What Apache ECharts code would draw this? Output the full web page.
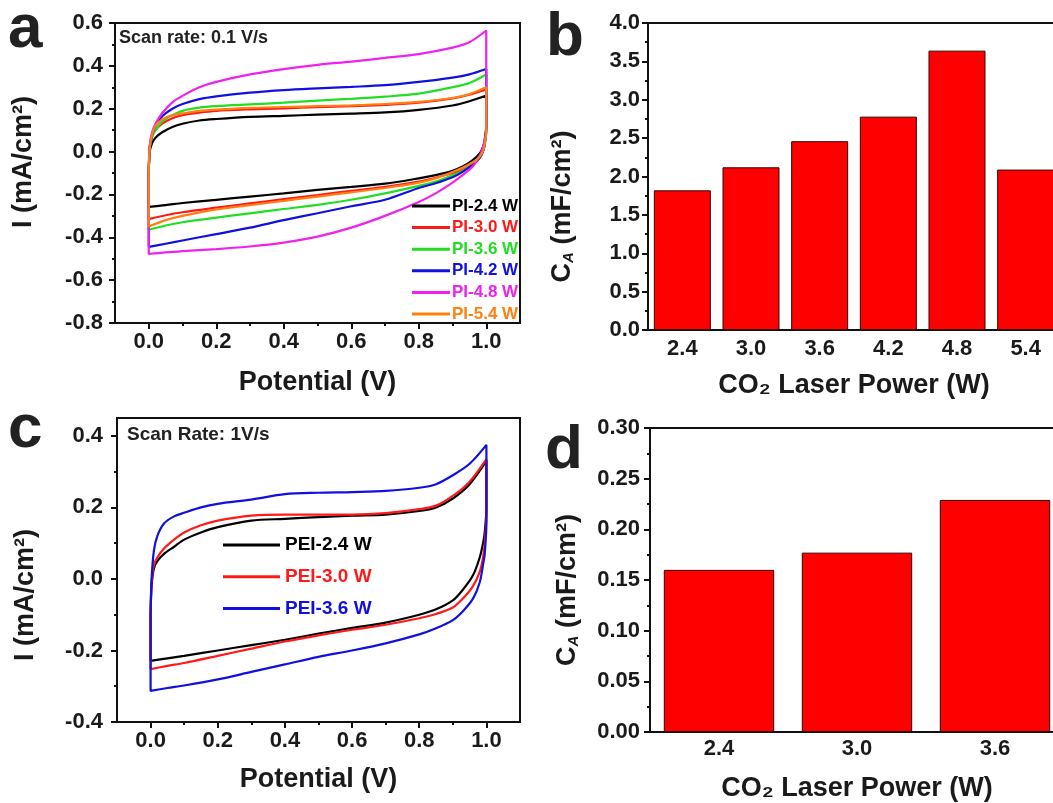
<!DOCTYPE html>
<html>
<head>
<meta charset="utf-8">
<script src="https://cdn.jsdelivr.net/npm/echarts@6/dist/echarts.min.js"></script>
<style>html,body{margin:0;padding:0;background:#fff}#c{width:1053px;height:803px}</style>
</head>
<body>
<div id="c"></div>
<script>
// ---------- Panel a: CV curves, PI, 0.1 V/s ----------
const piNames = ['PI-2.4 W', 'PI-3.0 W', 'PI-3.6 W', 'PI-4.2 W', 'PI-4.8 W', 'PI-5.4 W'];
const piColors = ['#000000', '#ff1a1a', '#22dd22', '#1010e0', '#ee22ee', '#ff8010'];
const piForwardPotential = [0, 0.003, 0.01, 0.02, 0.04, 0.07, 0.1, 0.15, 0.2, 0.3, 0.4, 0.5, 0.6, 0.7, 0.8, 0.9, 0.95, 1.0];
const piReversePotential = [1.0, 0.995, 0.99, 0.98, 0.96, 0.93, 0.9, 0.85, 0.8, 0.7, 0.6, 0.5, 0.4, 0.3, 0.2, 0.1, 0.05, 0];
const pi24Forward = [-0.1, 0.0, 0.04, 0.065, 0.09, 0.115, 0.13, 0.145, 0.152, 0.162, 0.167, 0.172, 0.177, 0.183, 0.195, 0.215, 0.235, 0.262];
const pi30Forward = [-0.1, 0.02, 0.07, 0.1, 0.13, 0.155, 0.17, 0.182, 0.19, 0.197, 0.202, 0.207, 0.212, 0.218, 0.228, 0.248, 0.265, 0.29];
const pi36Forward = [-0.1, 0.02, 0.07, 0.1, 0.14, 0.17, 0.19, 0.205, 0.212, 0.22, 0.228, 0.238, 0.246, 0.256, 0.27, 0.3, 0.32, 0.36];
const pi42Forward = [-0.1, 0.02, 0.08, 0.12, 0.165, 0.2, 0.222, 0.245, 0.258, 0.275, 0.287, 0.295, 0.302, 0.31, 0.325, 0.345, 0.36, 0.385];
const pi48Forward = [-0.1, 0.03, 0.09, 0.13, 0.18, 0.23, 0.26, 0.3, 0.325, 0.36, 0.385, 0.405, 0.42, 0.437, 0.455, 0.485, 0.51, 0.565];
const pi54Forward = [-0.1, 0.02, 0.08, 0.12, 0.15, 0.17, 0.178, 0.19, 0.196, 0.204, 0.208, 0.212, 0.216, 0.222, 0.232, 0.25, 0.268, 0.30];
const pi24Reverse = [0.12, 0.05, 0.02, -0.01, -0.04, -0.07, -0.09, -0.11, -0.125, -0.15, -0.165, -0.179, -0.195, -0.21, -0.225, -0.24, -0.25, -0.258];
const pi30Reverse = [0.1, 0.03, 0.0, -0.03, -0.06, -0.085, -0.1, -0.122, -0.14, -0.165, -0.183, -0.203, -0.222, -0.242, -0.262, -0.283, -0.297, -0.315];
const pi36Reverse = [0.1, 0.03, 0.0, -0.03, -0.06, -0.09, -0.11, -0.14, -0.16, -0.195, -0.225, -0.249, -0.268, -0.288, -0.308, -0.33, -0.345, -0.365];
const pi42Reverse = [0.12, 0.03, 0.0, -0.03, -0.06, -0.095, -0.12, -0.148, -0.17, -0.225, -0.255, -0.288, -0.32, -0.355, -0.385, -0.415, -0.43, -0.445];
const pi48Reverse = [0.1, 0.05, 0.02, -0.02, -0.07, -0.11, -0.145, -0.195, -0.235, -0.3, -0.355, -0.397, -0.425, -0.443, -0.455, -0.465, -0.47, -0.478];
const pi54Reverse = [0.1, 0.03, 0.0, -0.025, -0.05, -0.075, -0.095, -0.125, -0.145, -0.17, -0.19, -0.21, -0.23, -0.25, -0.27, -0.3, -0.32, -0.35];
const piForward = [pi24Forward, pi30Forward, pi36Forward, pi42Forward, pi48Forward, pi54Forward];
const piReverse = [pi24Reverse, pi30Reverse, pi36Reverse, pi42Reverse, pi48Reverse, pi54Reverse];

// ---------- Panel b: bars ----------
const powerB = ['2.4', '3.0', '3.6', '4.2', '4.8', '5.4'];
const capB = [1.82, 2.12, 2.46, 2.78, 3.64, 2.09];

// ---------- Panel c: CV curves, PEI, 1 V/s ----------
const peiNames = ['PEI-2.4 W', 'PEI-3.0 W', 'PEI-3.6 W'];
const peiColors = ['#000000', '#ff1a1a', '#1010e0'];
const peiForwardPotential = [0, 0.003, 0.01, 0.02, 0.04, 0.07, 0.1, 0.15, 0.2, 0.3, 0.4, 0.5, 0.6, 0.7, 0.8, 0.85, 0.9, 0.95, 1.0];
const peiReversePotential = [1.0, 0.995, 0.99, 0.98, 0.96, 0.93, 0.9, 0.85, 0.8, 0.7, 0.6, 0.5, 0.4, 0.3, 0.2, 0.1, 0.05, 0];
const pei24Forward = [-0.1, -0.02, 0.03, 0.05, 0.07, 0.09, 0.11, 0.13, 0.145, 0.163, 0.168, 0.173, 0.177, 0.18, 0.19, 0.2, 0.225, 0.265, 0.33];
const pei30Forward = [-0.1, -0.01, 0.04, 0.06, 0.085, 0.11, 0.13, 0.15, 0.163, 0.177, 0.18, 0.18, 0.18, 0.184, 0.195, 0.205, 0.232, 0.272, 0.335];
const pei36Forward = [-0.1, 0.0, 0.08, 0.12, 0.155, 0.175, 0.185, 0.2, 0.21, 0.222, 0.237, 0.241, 0.243, 0.246, 0.255, 0.265, 0.29, 0.322, 0.375];
const pei24Reverse = [0.2, 0.13, 0.1, 0.06, 0.01, -0.03, -0.06, -0.085, -0.1, -0.122, -0.137, -0.153, -0.17, -0.185, -0.2, -0.215, -0.222, -0.229];
const pei30Reverse = [0.18, 0.1, 0.06, 0.02, -0.02, -0.055, -0.08, -0.098, -0.11, -0.128, -0.142, -0.158, -0.175, -0.195, -0.215, -0.235, -0.243, -0.252];
const pei36Reverse = [0.16, 0.07, 0.04, -0.01, -0.055, -0.09, -0.115, -0.138, -0.155, -0.18, -0.2, -0.218, -0.239, -0.26, -0.281, -0.298, -0.305, -0.313];
const peiForward = [pei24Forward, pei30Forward, pei36Forward];
const peiReverse = [pei24Reverse, pei30Reverse, pei36Reverse];

// ---------- Panel d: bars ----------
const powerD = ['2.4', '3.0', '3.6'];
const capD = [0.160, 0.177, 0.229];

// ---------- tick labels ----------
const potentialTicks = [0, 0.2, 0.4, 0.6, 0.8, 1.0];
const potentialMinorTicks = [0.1, 0.3, 0.5, 0.7, 0.9];
const currentTicksC = [-0.4, -0.2, 0, 0.2, 0.4];
const currentMinorTicksC = [-0.3, -0.1, 0.1, 0.3];

// ---------- build ----------
const FONT = 'Liberation Sans, Arial, sans-serif';
const INK = '#1a1a1a';
function loop(fV, fI, rV, rI) {
  const pts = fV.map((v, i) => [v, fI[i]]).concat(rV.map((v, i) => [v, rI[i]]));
  pts.push(pts[0]);
  return pts;
}
const labelStyle = { fontSize: 22, fontWeight: 'bold', color: INK, fontFamily: FONT };
const nameStyle = { fontSize: 27, fontWeight: 'bold', color: INK, fontFamily: FONT };
const lineSt = { color: '#111', width: 2 };

function mainX(grid, margin, nameGap) {
  return {
    gridIndex: grid, type: 'value', min: -0.1, max: 1.1,
    axisLine: { onZero: false, lineStyle: lineSt },
    axisTick: { customValues: potentialTicks, length: 6, lineStyle: lineSt },
    axisLabel: Object.assign({ customValues: potentialTicks, margin: margin, formatter: v => v.toFixed(1) }, labelStyle),
    splitLine: { show: false },
    name: 'Potential (V)', nameLocation: 'middle', nameGap: nameGap, nameTextStyle: nameStyle
  };
}
function minorX(grid) {
  return {
    gridIndex: grid, type: 'value', min: -0.1, max: 1.1, position: 'bottom',
    axisLine: { show: false, onZero: false },
    axisTick: { customValues: potentialMinorTicks, length: 3, lineStyle: lineSt },
    axisLabel: { show: false }, splitLine: { show: false }
  };
}

const series = [];
piNames.forEach((n, i) => series.push({
  name: n, type: 'line', xAxisIndex: 0, yAxisIndex: 0, showSymbol: false, symbol: 'none', smooth: 0.3,
  data: loop(piForwardPotential, piForward[i], piReversePotential, piReverse[i]),
  itemStyle: { color: piColors[i] }, lineStyle: { color: piColors[i], width: 2.2 }, animation: false
}));
series.push({
  name: 'bars-b', type: 'bar', xAxisIndex: 2, yAxisIndex: 1, data: capB, barCategoryGap: '17%',
  itemStyle: { color: '#ff0000', borderColor: '#3a0000', borderWidth: 1 }, animation: false
});
peiNames.forEach((n, i) => series.push({
  name: n, type: 'line', xAxisIndex: 4, yAxisIndex: 2, showSymbol: false, symbol: 'none', smooth: 0.3,
  data: loop(peiForwardPotential, peiForward[i], peiReversePotential, peiReverse[i]),
  itemStyle: { color: peiColors[i] }, lineStyle: { color: peiColors[i], width: 2.2 }, animation: false
}));
series.push({
  name: 'bars-d', type: 'bar', xAxisIndex: 6, yAxisIndex: 4, data: capD, barCategoryGap: '20%',
  itemStyle: { color: '#ff0000', borderColor: '#3a0000', borderWidth: 1 }, animation: false
});

const gridBase = { show: true, borderColor: '#111', borderWidth: 2, backgroundColor: 'transparent', containLabel: false, outerBoundsMode: 'none' };
const option = {
  animation: false,
  textStyle: { fontFamily: FONT },
  grid: [
    Object.assign({ left: 115, top: 23, width: 405, height: 300 }, gridBase),
    Object.assign({ left: 648, top: 23, width: 412, height: 307 }, gridBase),
    Object.assign({ left: 117, top: 418, width: 403, height: 304 }, gridBase),
    Object.assign({ left: 650, top: 428, width: 414, height: 304 }, gridBase)
  ],
  xAxis: [
    mainX(0, 8, 46),
    minorX(0),
    { gridIndex: 1, type: 'category', data: powerB, boundaryGap: true,
      axisLine: { lineStyle: lineSt }, axisTick: { alignWithLabel: true, length: 6, lineStyle: lineSt },
      axisLabel: Object.assign({ margin: 8 }, labelStyle),
      name: 'CO₂ Laser Power (W)', nameLocation: 'middle', nameGap: 42, nameTextStyle: nameStyle },
    { gridIndex: 1, type: 'category', data: powerB, boundaryGap: true, position: 'bottom',
      axisLine: { show: false }, axisTick: { alignWithLabel: false, length: 3, lineStyle: lineSt },
      axisLabel: { show: false } },
    mainX(2, 8, 44),
    minorX(2),
    { gridIndex: 3, type: 'category', data: powerD, boundaryGap: true,
      axisLine: { lineStyle: lineSt }, axisTick: { alignWithLabel: true, length: 6, lineStyle: lineSt },
      axisLabel: Object.assign({ margin: 6 }, labelStyle),
      name: 'CO₂ Laser Power (W)', nameLocation: 'middle', nameGap: 43, nameTextStyle: nameStyle },
    { gridIndex: 3, type: 'category', data: powerD, boundaryGap: true, position: 'bottom',
      axisLine: { show: false }, axisTick: { alignWithLabel: false, length: 3, lineStyle: lineSt },
      axisLabel: { show: false } }
  ],
  yAxis: [
    { gridIndex: 0, type: 'value', min: -0.8, max: 0.6, interval: 0.2,
      axisLine: { show: true, onZero: false, lineStyle: lineSt }, axisTick: { show: true, length: 6, lineStyle: lineSt },
      minorTick: { show: true, splitNumber: 2, length: 3, lineStyle: lineSt },
      axisLabel: Object.assign({ margin: 12, formatter: v => v.toFixed(1) }, labelStyle),
      splitLine: { show: false },
      name: 'I (mA/cm²)', nameLocation: 'middle', nameGap: 78,
      nameTextStyle: Object.assign({ padding: [0, 0, 0, 22] }, nameStyle) },
    { gridIndex: 1, type: 'value', min: 0, max: 4, interval: 0.5,
      axisLine: { show: true, lineStyle: lineSt }, axisTick: { show: true, length: 6, lineStyle: lineSt },
      minorTick: { show: true, splitNumber: 2, length: 3, lineStyle: lineSt },
      axisLabel: Object.assign({ margin: 8, formatter: v => v.toFixed(1) }, labelStyle),
      splitLine: { show: false },
      name: '{n|C}{s|A}{n| (mF/cm²)}', nameLocation: 'middle', nameGap: 72,
      nameTextStyle: Object.assign({ padding: [0, 60, 0, 0],
        rich: { n: nameStyle, s: { fontSize: 15, fontStyle: 'italic', fontWeight: 'bold', color: INK, fontFamily: FONT, verticalAlign: 'bottom', padding: [12, 0, 0, 0] } } }, nameStyle) },
    { gridIndex: 2, type: 'value', min: -0.4, max: 0.45,
      axisLine: { show: true, onZero: false, lineStyle: lineSt },
      axisTick: { show: true, customValues: currentTicksC, length: 6, lineStyle: lineSt },
      axisLabel: Object.assign({ customValues: currentTicksC, margin: 14, formatter: v => v.toFixed(1) }, labelStyle),
      splitLine: { show: false },
      name: 'I (mA/cm²)', nameLocation: 'middle', nameGap: 78,
      nameTextStyle: Object.assign({ padding: [0, 50, 0, 0] }, nameStyle) },
    { gridIndex: 2, type: 'value', min: -0.4, max: 0.45, position: 'left',
      axisLine: { show: false, onZero: false },
      axisTick: { show: true, customValues: currentMinorTicksC, length: 3, lineStyle: lineSt },
      axisLabel: { show: false }, splitLine: { show: false } },
    { gridIndex: 3, type: 'value', min: 0, max: 0.3, interval: 0.05,
      axisLine: { show: true, lineStyle: lineSt }, axisTick: { show: true, length: 6, lineStyle: lineSt },
      minorTick: { show: true, splitNumber: 2, length: 3, lineStyle: lineSt },
      axisLabel: Object.assign({ margin: 10, formatter: v => v.toFixed(2) }, labelStyle),
      splitLine: { show: false },
      name: '{n|C}{s|A}{n| (mF/cm²)}', nameLocation: 'middle', nameGap: 69,
      nameTextStyle: Object.assign({ padding: [0, 20, 0, 0],
        rich: { n: nameStyle, s: { fontSize: 15, fontStyle: 'italic', fontWeight: 'bold', color: INK, fontFamily: FONT, verticalAlign: 'bottom', padding: [12, 0, 0, 0] } } }, nameStyle) }
  ],
  legend: [
    { data: piNames.map((n, i) => ({ name: n, textStyle: { color: piColors[i] } })),
      orient: 'vertical', left: 412, top: 197, padding: 0, itemGap: 3.6,
      icon: 'rect', itemWidth: 38, itemHeight: 3, selectedMode: false,
      textStyle: { fontSize: 17, fontWeight: 'bold', lineHeight: 18, fontFamily: FONT, padding: [0, 0, 0, -3] } },
    { data: peiNames.map((n, i) => ({ name: n, textStyle: { color: peiColors[i] } })),
      orient: 'vertical', left: 223, top: 535, padding: 0, itemGap: 11.7,
      icon: 'rect', itemWidth: 57, itemHeight: 3, selectedMode: false,
      textStyle: { fontSize: 19, fontWeight: 'bold', lineHeight: 20, fontFamily: FONT } }
  ],
  graphic: [
    { type: 'text', style: { text: 'a', x: 8, y: 30, font: 'bold 62px ' + FONT, fill: '#222', verticalAlign: 'middle' } },
    { type: 'text', style: { text: 'b', x: 546, y: 38, font: 'bold 62px ' + FONT, fill: '#222', verticalAlign: 'middle' } },
    { type: 'text', style: { text: 'c', x: 8, y: 430, font: 'bold 62px ' + FONT, fill: '#222', verticalAlign: 'middle' } },
    { type: 'text', style: { text: 'd', x: 545, y: 451, font: 'bold 62px ' + FONT, fill: '#222', verticalAlign: 'middle' } },
    { type: 'text', style: { text: 'Scan rate: 0.1 V/s', x: 119, y: 38, font: 'bold 18px ' + FONT, fill: '#222', verticalAlign: 'middle' } },
    { type: 'text', style: { text: 'Scan Rate: 1V/s', x: 127, y: 435, font: 'bold 19px ' + FONT, fill: '#222', verticalAlign: 'middle' } }
  ],
  series: series
};
const chart = echarts.init(document.getElementById('c'), null, { renderer: 'canvas' });
chart.setOption(option);
</script>
</body>
</html>
